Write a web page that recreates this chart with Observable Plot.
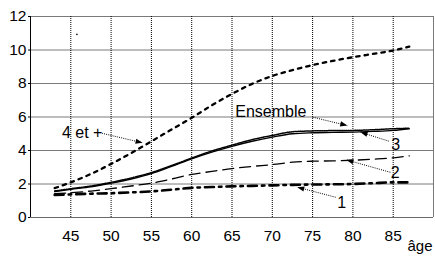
<!DOCTYPE html>
<html><head><meta charset="utf-8">
<script src="https://cdn.jsdelivr.net/npm/d3@7"></script>
<script src="https://cdn.jsdelivr.net/npm/@observablehq/plot@0.6"></script>
<style>
html,body{margin:0;padding:0;background:#fff}
#chart svg{display:block}
</style>
</head><body><div id="chart"></div>
<script>
// ---- data ----
const ages      = [43, 45, 47.5, 50, 52.5, 55, 57.5, 60, 62.5, 65, 67.5, 70, 72.5, 75, 77.5, 80, 82.5, 85, 87];
const s4etPlus  = [1.75, 2.1, 2.6, 3.2, 3.85, 4.55, 5.25, 5.95, 6.7, 7.38, 7.98, 8.45, 8.8, 9.1, 9.35, 9.57, 9.77, 9.97, 10.2];
const sEnsemble = [1.55, 1.68, 1.83, 2.05, 2.3, 2.62, 3.05, 3.5, 3.9, 4.25, 4.55, 4.8, 5.0, 5.06, 5.08, 5.1, 5.14, 5.2, 5.3];
const s3        = [1.58, 1.72, 1.88, 2.1, 2.36, 2.68, 3.1, 3.55, 3.97, 4.32, 4.65, 4.9, 5.12, 5.17, 5.19, 5.2, 5.24, 5.3, 5.33];
const s2        = [1.42, 1.48, 1.58, 1.72, 1.88, 2.05, 2.3, 2.57, 2.75, 2.92, 3.05, 3.16, 3.3, 3.36, 3.38, 3.42, 3.48, 3.56, 3.68];
const s1        = [1.35, 1.38, 1.42, 1.45, 1.5, 1.56, 1.66, 1.77, 1.82, 1.86, 1.89, 1.92, 1.95, 1.97, 1.98, 2.0, 2.05, 2.1, 2.1];
const seriesNames = ["4 et +", "Ensemble", "3", "2", "1"];
const xTicks = [45, 50, 55, 60, 65, 70, 75, 80, 85];
const yTicks = [0, 2, 4, 6, 8, 10, 12];
const xLabel = "âge";
// annotations (data units)
const annText  = ["4 et +", "Ensemble", "3", "2", "1"];
const annX     = [43.9, 65.4, 85.3, 85.25, 78.6];
const annY     = [5.03, 6.31, 4.36, 2.66, 0.87];
const arrFromX = [48.85, 75.0, 84.44, 84.65, 77.86];
const arrFromY = [5.03, 5.99, 4.56, 2.70, 1.21];
const arrToX   = [53.9, 79.3, 80.95, 79.2, 73.1];
const arrToY   = [4.46, 5.49, 5.09, 3.44, 1.81];
const strayDot = [{x: 45.76, y: 10.93}];

// ---- build tables ----
const seriesValues = [s4etPlus, sEnsemble, s3, s2, s1];
const rows = seriesNames.flatMap((name, k) => ages.map((a, i) => ({age: a, value: seriesValues[k][i], serie: name})));
const ann = annText.map((t, i) => ({t, x: annX[i], y: annY[i], anchor: i < 2 ? "start" : "middle"}));
const arrows = annText.map((t, i) => ({x1: arrFromX[i], y1: arrFromY[i], x2: arrToX[i], y2: arrToY[i]}));

const styles = {
  "4 et +":  {strokeWidth: 2.3, strokeDasharray: "3.5,5"},
  "Ensemble":{strokeWidth: 1.4},
  "3":       {strokeWidth: 1.5, strokeDasharray: "1.2,1"},
  "2":       {strokeWidth: 1.3, strokeDasharray: "11,6"},
  "1":       {strokeWidth: 2.6, strokeDasharray: "9,5,2.5,5"}
};

const font = "'Liberation Sans', Arial, Helvetica, sans-serif";

const chart = Plot.plot({
  width: 435,
  height: 256,
  marginLeft: 30,
  marginRight: 2,
  marginTop: 16,
  marginBottom: 39,
  style: {fontFamily: font, fontSize: "15.5px", color: "#000", background: "#fff"},
  x: {domain: [40, 90]},
  y: {domain: [0, 12]},
  marks: [
    Plot.ruleY(yTicks.filter(d => d > 0), {stroke: "#7a7a7a", strokeWidth: 1}),
    Plot.ruleX(xTicks, {stroke: "#000", strokeWidth: 1, strokeDasharray: "1,1"}),
    Plot.ruleY([0], {stroke: "#6a6a6a", strokeWidth: 1}),
    Plot.ruleX([90], {stroke: "#7a7a7a", strokeWidth: 1}),
    Plot.ruleX([40], {stroke: "#000", strokeWidth: 1}),
    Plot.axisY({ticks: yTicks, tickSize: 2, tickPadding: 2, label: null, tickFormat: d => d, fontSize: 15.5}),
    Plot.axisX({ticks: xTicks, tickSize: 0, tickPadding: 12, label: null, tickFormat: d => d, fontSize: 15.5}),
    ...seriesNames.map(name => Plot.line(rows.filter(r => r.serie === name), {
      x: "age", y: "value", stroke: "#000", curve: "monotone-x", ...styles[name]
    })),
    Plot.link(arrows, {x1: "x1", y1: "y1", x2: "x2", y2: "y2", stroke: "#000", strokeWidth: 1, strokeDasharray: "1,1.2", markerEnd: "arrow"}),
    Plot.text(ann.filter(d => d.anchor === "middle"), {x: "x", y: "y", text: "t", textAnchor: "middle", lineAnchor: "middle", fontSize: 16, fill: "#000"}),
    Plot.text(ann.filter(d => d.anchor === "start"), {x: "x", y: "y", text: "t", textAnchor: "start", lineAnchor: "middle", fontSize: 16, fill: "#000"}),
    Plot.dot(strayDot, {x: "x", y: "y", r: 0.8, fill: "#000", stroke: null}),
    Plot.text([xLabel], {frameAnchor: "bottom-right", dx: -1, dy: 29, textAnchor: "end", lineAnchor: "middle", fontSize: 15, fill: "#000"})
  ]
});

// filled arrowheads
chart.querySelectorAll("marker").forEach(m => {
  m.setAttribute("viewBox", "-8 -5 10 10");
  m.setAttribute("markerWidth", 10);
  m.setAttribute("markerHeight", 10);
  m.setAttribute("markerUnits", "userSpaceOnUse");
  m.setAttribute("refX", 0);
  m.setAttribute("refY", 0);
  m.setAttribute("orient", "auto");
  m.innerHTML = '<path d="M-7,-2.6L0,0L-7,2.6Z" fill="#000" stroke="none"/>';
});

document.getElementById("chart").appendChild(chart);
</script>
</body></html>
